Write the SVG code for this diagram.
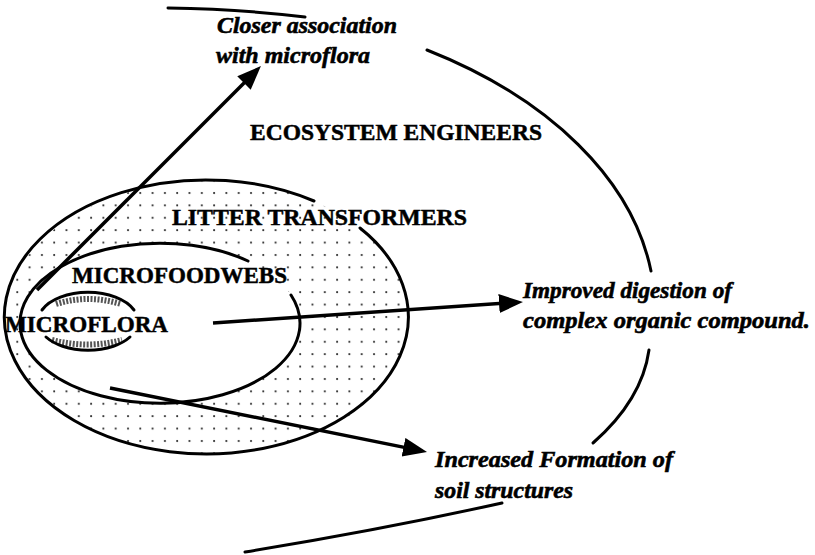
<svg xmlns="http://www.w3.org/2000/svg" width="815" height="555" viewBox="0 0 815 555">
<style>
.ln{fill:none;stroke:#000;stroke-width:3;stroke-linecap:round}
.cap{font-family:"Liberation Serif","Times New Roman",serif;font-weight:bold;font-size:24px;fill:#000;stroke:#000;stroke-width:0.5}
.it{font-family:"Liberation Serif","Times New Roman",serif;font-weight:bold;font-style:italic;font-size:24px;fill:#000;stroke:#000;stroke-width:0.6}
.arr{fill:none;stroke:#000;stroke-width:3.5;marker-end:url(#ah)}
.noise{fill:none;stroke:#555;stroke-width:6;stroke-dasharray:2 1.5}
</style>
<defs>
<pattern id="dots" patternUnits="userSpaceOnUse" x="3" y="5" width="12.3" height="12.4">
<circle cx="2" cy="2" r="1.05" fill="#222"/>
</pattern>
<marker id="ah" markerUnits="userSpaceOnUse" markerWidth="26" markerHeight="20" refX="16" refY="9.5" orient="auto">
<path d="M0,0 L24,9.5 L0,19 z" fill="#000"/>
</marker>
</defs>
<rect width="815" height="555" fill="#fff"/>

<g id="node-ecosystem-engineers">
<path class="ln" d="M168,8 Q240,9 305,17"/>
<path class="ln" d="M427,50 A485,307 0 0 1 651,271"/>
<path class="ln" d="M649,350 Q642,400 593,443"/>
<path class="ln" d="M502,503 Q380,530 245,552"/>
<text class="cap" x="250" y="140" textLength="292" lengthAdjust="spacingAndGlyphs">ECOSYSTEM ENGINEERS</text>
</g>

<g id="node-litter-transformers">
<ellipse cx="208" cy="318" rx="202" ry="137" fill="url(#dots)"/>
<path class="ln" d="M360,228 A202,137 0 1 1 314,201"/>
<text class="cap" x="172" y="225" font-size="24.5" textLength="295" lengthAdjust="spacingAndGlyphs">LITTER TRANSFORMERS</text>
</g>

<g id="node-microfoodwebs">
<ellipse cx="160" cy="323" rx="140" ry="80" fill="#fff"/>
<path class="ln" d="M291,295 A140,80 0 1 1 248,261"/>
<text class="cap" x="72" y="283" textLength="215" lengthAdjust="spacingAndGlyphs">MICROFOODWEBS</text>
</g>

<g id="node-microflora">
<path class="noise" d="M56,304 Q88,294 121,304"/>
<path class="noise" d="M52,340 Q88,349 122,340"/>
<path class="ln" d="M42,310 A50,29 0 0 1 134,310"/>
<path class="ln" d="M46,337 A50,29 0 0 0 130,337"/>
<text class="cap" x="5" y="332" textLength="163" lengthAdjust="spacingAndGlyphs">MICROFLORA</text>
</g>

<g id="node-closer-association">
<text class="it" x="217" y="33" textLength="180" lengthAdjust="spacingAndGlyphs">Closer association</text>
<text class="it" x="216" y="63" textLength="154" lengthAdjust="spacingAndGlyphs">with microflora</text>
</g>

<g id="node-improved-digestion">
<text class="it" x="523" y="298" textLength="209" lengthAdjust="spacingAndGlyphs">Improved digestion of</text>
<text class="it" x="523" y="328" textLength="287" lengthAdjust="spacingAndGlyphs">complex organic compound.</text>
</g>

<g id="node-soil-structures">
<text class="it" x="435" y="467" textLength="238" lengthAdjust="spacingAndGlyphs">Increased Formation of</text>
<text class="it" x="435" y="498" textLength="138" lengthAdjust="spacingAndGlyphs">soil structures</text>
</g>

<g id="connectors">
<line class="arr" x1="37" y1="290" x2="255.3" y2="71.7"/>
<line class="arr" x1="213" y1="323" x2="515" y2="302.5"/>
<line class="arr" x1="110" y1="388" x2="419.2" y2="450.4"/>
</g>
</svg>
